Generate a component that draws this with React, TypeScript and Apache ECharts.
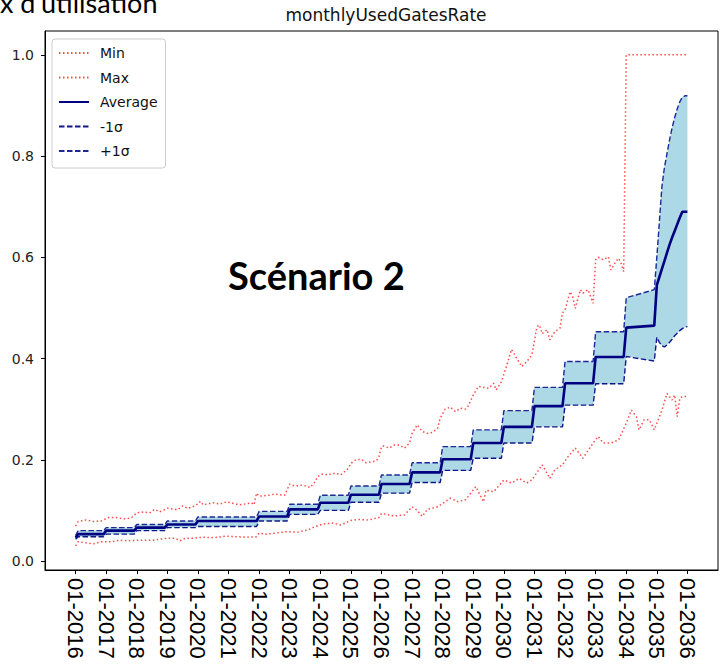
import React, { useEffect, useRef } from "react";
import * as echarts from "echarts";

// Tick labels (every 12 months, starting at 01-2016)
const tickLabels = [
  "01-2016", "01-2017", "01-2018", "01-2019", "01-2020", "01-2021", "01-2022",
  "01-2023", "01-2024", "01-2025", "01-2026", "01-2027", "01-2028", "01-2029",
  "01-2030", "01-2031", "01-2032", "01-2033", "01-2034", "01-2035", "01-2036",
];
const yTicks = [0, 0.2, 0.4, 0.6, 0.8, 1.0];

// Yearly plateau values 2016..2034 (average and ±1σ)
const avgByYear = [0.053, 0.060, 0.066, 0.072, 0.079, 0.079, 0.088, 0.102, 0.115, 0.131, 0.152, 0.175, 0.201, 0.233, 0.265, 0.306, 0.351, 0.403, 0.461];
const upperByYear = [0.060, 0.066, 0.072, 0.079, 0.087, 0.087, 0.098, 0.112, 0.130, 0.148, 0.170, 0.194, 0.226, 0.259, 0.297, 0.343, 0.394, 0.453, 0.520];
const lowerByYear = [0.048, 0.053, 0.060, 0.066, 0.068, 0.068, 0.079, 0.092, 0.100, 0.116, 0.134, 0.155, 0.179, 0.203, 0.233, 0.265, 0.308, 0.350, 0.404];
// first month (01-2016)
const startAvg = 0.046;
const startUpper = 0.050;
const startLower = 0.043;
// monthly values from 12-2034 (month 227) to 01-2036 (month 240)
const tailAvg = [0.465, 0.545, 0.561, 0.577, 0.593, 0.609, 0.625, 0.639, 0.652, 0.665, 0.678, 0.690, 0.690, 0.690];
const tailUpper = [0.536, 0.600, 0.670, 0.740, 0.778, 0.805, 0.832, 0.856, 0.876, 0.893, 0.907, 0.916, 0.919, 0.919];
const tailLower = [0.395, 0.442, 0.432, 0.425, 0.423, 0.427, 0.432, 0.438, 0.445, 0.450, 0.455, 0.459, 0.462, 0.463];
const tailStartMonth = 227;

// Max / Min envelopes: [month index since 01-2016, value]
const maxPoints = [
  [0, 0.069], [1, 0.078], [4, 0.081], [7, 0.078], [10, 0.079], [13, 0.086], [16, 0.086], [18, 0.084], [20, 0.083], [22, 0.086],
  [24, 0.095], [27, 0.097], [29, 0.095], [31, 0.102], [33, 0.097], [36, 0.104], [39, 0.102], [40, 0.101], [42, 0.109], [44, 0.104],
  [47, 0.109], [49, 0.118], [50, 0.111], [52, 0.113], [54, 0.115], [56, 0.113], [58, 0.114], [59, 0.117], [61, 0.115], [64, 0.111],
  [67, 0.113], [69, 0.115], [70, 0.111], [71, 0.134], [72, 0.128], [76, 0.130], [78, 0.132], [82, 0.130], [84, 0.152], [86, 0.148],
  [89, 0.150], [91, 0.147], [92, 0.145], [94, 0.157], [95, 0.167], [97, 0.172], [99, 0.170], [101, 0.173], [103, 0.172], [104, 0.170],
  [107, 0.183], [108, 0.193], [110, 0.200], [112, 0.201], [114, 0.194], [116, 0.196], [118, 0.198], [119, 0.206], [120, 0.226], [121, 0.227],
  [123, 0.223], [125, 0.229], [127, 0.229], [129, 0.223], [131, 0.233], [132, 0.252], [134, 0.269], [136, 0.256], [138, 0.252], [140, 0.254],
  [142, 0.262], [143, 0.282], [145, 0.300], [147, 0.304], [149, 0.295], [151, 0.302], [153, 0.300], [154, 0.306], [156, 0.328], [158, 0.345],
  [160, 0.343], [162, 0.341], [164, 0.351], [165, 0.338], [167, 0.354], [169, 0.384], [171, 0.418], [173, 0.401], [175, 0.384], [177, 0.394],
  [179, 0.407], [181, 0.463], [182, 0.466], [183, 0.449], [185, 0.457], [186, 0.437], [188, 0.453], [190, 0.460], [191, 0.490], [192, 0.496],
  [194, 0.532], [195, 0.522], [196, 0.499], [198, 0.536], [199, 0.529], [201, 0.536], [203, 0.509], [204, 0.595], [205, 0.600], [207, 0.595],
  [209, 0.601], [210, 0.575], [212, 0.592], [213, 0.598], [214, 0.588], [215, 0.572], [216, 1.0], [240, 1.0],
];
const minPoints = [
  [0, 0.030], [1, 0.038], [4, 0.036], [7, 0.034], [10, 0.038], [14, 0.038], [17, 0.041], [20, 0.040], [24, 0.041], [27, 0.041],
  [30, 0.041], [33, 0.043], [36, 0.045], [39, 0.045], [41, 0.040], [43, 0.045], [46, 0.045], [50, 0.047], [53, 0.046], [56, 0.047],
  [59, 0.049], [63, 0.048], [67, 0.047], [71, 0.048], [72, 0.055], [75, 0.053], [78, 0.055], [83, 0.058], [87, 0.057], [91, 0.061],
  [94, 0.068], [97, 0.073], [101, 0.075], [104, 0.071], [108, 0.080], [111, 0.082], [115, 0.081], [119, 0.086], [120, 0.094], [123, 0.091],
  [125, 0.089], [129, 0.091], [132, 0.107], [134, 0.100], [136, 0.088], [138, 0.102], [142, 0.107], [147, 0.124], [150, 0.117], [153, 0.121],
  [157, 0.147], [160, 0.117], [161, 0.140], [164, 0.137], [168, 0.160], [171, 0.154], [174, 0.163], [177, 0.154], [179, 0.160], [183, 0.190],
  [185, 0.173], [186, 0.163], [188, 0.180], [191, 0.190], [193, 0.205], [196, 0.223], [199, 0.203], [203, 0.233], [205, 0.246], [207, 0.233],
  [210, 0.233], [213, 0.239], [216, 0.272], [218, 0.298], [220, 0.285], [221, 0.259], [223, 0.279], [225, 0.279], [227, 0.259], [230, 0.298],
  [232, 0.331], [234, 0.318], [235, 0.328], [236, 0.285], [237, 0.321], [238, 0.325], [240, 0.325],
];

function buildBand(start: number, byYear: number[], tail: number[]) {
  const pts: number[][] = [[0, start]];
  byYear.forEach((v, k) => {
    const m0 = k === 0 ? 1 : k * 12;
    pts.push([m0, v]);
    if (k < byYear.length - 1) pts.push([k * 12 + 11, v]);
  });
  tail.forEach((v, i) => pts.push([tailStartMonth + i, v]));
  return pts;
}

export default function App() {
  const ref = useRef<HTMLDivElement>(null);
  useEffect(() => {
    document.body.style.margin = "0";
    if (!ref.current) return;
    const chart = echarts.init(ref.current, null, { renderer: "svg" });
    const avg = buildBand(startAvg, avgByYear, tailAvg);
    const upper = buildBand(startUpper, upperByYear, tailUpper);
    const lower = buildBand(startLower, lowerByYear, tailLower);
    const tickMonths = tickLabels.map((_, i) => i * 12);
    const font = "DejaVu Sans";
    const navy = "#000080";
    const red = "#ff2a2a";
    chart.setOption({
      animation: false,
      backgroundColor: "#ffffff",
      title: {
        text: "monthlyUsedGatesRate",
        left: 381,
        top: 1,
        textAlign: "center",
        textStyle: { fontFamily: font, fontSize: 17, fontWeight: "normal", color: "#111" },
      },
      legend: {
        data: ["Min", "Max", "Average", "-1σ", "+1σ"],
        orient: "vertical",
        left: 52,
        top: 39,
        itemWidth: 30,
        itemHeight: 14,
        itemGap: 10.5,
        padding: [7, 8, 10, 6],
        backgroundColor: "rgba(255,255,255,0.85)",
        borderColor: "#cccccc",
        borderWidth: 1,
        borderRadius: 3,
        itemStyle: { opacity: 0 },
        textStyle: { fontFamily: font, fontSize: 14, color: "#111", padding: [0, 0, 0, 6] },
      },
      grid: {
        left: 45,
        right: 7,
        top: 31,
        bottom: 101,
        show: true,
        borderColor: "#000",
        borderWidth: 1,
      },
      xAxis: {
        type: "value",
        min: -12,
        max: 252,
        splitLine: { show: false },
        axisLine: { show: true, onZero: false, lineStyle: { color: "#000" } },
        axisTick: { show: true, length: 4, customValues: tickMonths, lineStyle: { color: "#000" } },
        axisLabel: {
          customValues: tickMonths,
          rotate: -90,
          margin: 8,
          fontFamily: "Liberation Sans",
          fontSize: 22,
          color: "#000",
          formatter: (v: number) => tickLabels[Math.round(v / 12)] ?? "",
        },
      },
      yAxis: {
        type: "value",
        min: -0.0178,
        max: 1.047,
        splitLine: { show: false },
        axisLine: { show: true, onZero: false, lineStyle: { color: "#000" } },
        axisTick: { show: true, length: 4, customValues: yTicks, lineStyle: { color: "#000" } },
        axisLabel: {
          customValues: yTicks,
          margin: 11,
          fontFamily: font,
          fontSize: 14,
          color: "#222",
          formatter: (v: number) => v.toFixed(1),
        },
      },
      graphic: [
        {
          type: "text",
          x: 0,
          y: 16,
          style: {
            text: "x d'utilisation",
            fontFamily: "Lato",
            fontSize: 27,
            fill: "#000",
            textVerticalAlign: "bottom",
            verticalAlign: "bottom",
          },
        },
        {
          type: "text",
          x: 228,
          y: 275,
          style: {
            text: "Scénario 2",
            fontFamily: "Lato",
            fontWeight: "bold",
            fontSize: 38,
            fill: "#000",
            verticalAlign: "middle",
            textVerticalAlign: "middle",
          },
          z: 100,
        },
      ],
      series: [
        {
          name: "band",
          type: "custom",
          data: [[0, 0]],
          silent: true,
          clip: true,
          z: 1,
          renderItem: (_params: any, api: any) => {
            const pts = upper
              .map((p) => api.coord(p))
              .concat(lower.slice().reverse().map((p) => api.coord(p)));
            return { type: "polygon", shape: { points: pts }, style: { fill: "#add8e6" } };
          },
        },
        {
          name: "Min",
          type: "line",
          data: minPoints,
          symbol: "none",
          lineStyle: { color: red, width: 1.5, type: [1.5, 2.5], opacity: 0.85 },
          itemStyle: { color: red },
          z: 2,
        },
        {
          name: "Max",
          type: "line",
          data: maxPoints,
          symbol: "none",
          lineStyle: { color: red, width: 1.5, type: [1.5, 2.5], opacity: 0.85 },
          itemStyle: { color: red },
          z: 2,
        },
        {
          name: "Average",
          type: "line",
          data: avg,
          symbol: "none",
          lineStyle: { color: navy, width: 2.6 },
          itemStyle: { color: navy },
          z: 4,
        },
        {
          name: "-1σ",
          type: "line",
          data: lower,
          symbol: "none",
          lineStyle: { color: "#101888", width: 1.4, type: [5.5, 2.5] },
          itemStyle: { color: "#101888" },
          z: 3,
        },
        {
          name: "+1σ",
          type: "line",
          data: upper,
          symbol: "none",
          lineStyle: { color: "#1c2898", width: 1.4, type: [5.5, 2.5] },
          itemStyle: { color: "#1c2898" },
          z: 3,
        },
      ],
    });
    return () => chart.dispose();
  }, []);
  return <div ref={ref} style={{ width: 725, height: 671 }} />;
}
